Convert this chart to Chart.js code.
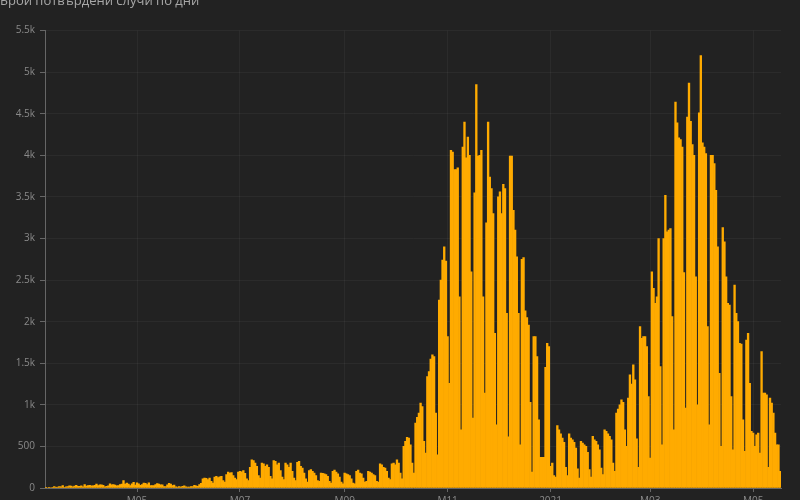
<!DOCTYPE html>
<html>
<head>
<meta charset="utf-8">
<title>Брой потвърдени случи по дни</title>
<script src="https://cdn.jsdelivr.net/npm/chart.js@4.4.0/dist/chart.umd.min.js"></script>
<style>
  html, body { margin: 0; padding: 0; background: #222; overflow: hidden; }
  #wrap { position: absolute; left: 0; top: -10px; width: 800px; height: 510px; }
</style>
</head>
<body>
<div id="wrap"><canvas id="casesChart"></canvas></div>
<script>
// ---------- данни ----------
const startDate = '2020-03-08';

// нови случаи по дни (ред = седмица пон..нед)
const dailyCases = [
  4,
  0, 2, 0, 1, 16, 8, 10,
  16, 14, 30, 9, 15, 17, 25,
  22, 14, 22, 33, 20, 20, 27,
  15, 40, 22, 28, 31, 26, 25,
  33, 46, 28, 38, 38, 31, 15,
  20, 27, 51, 39, 42, 36, 26,
  28, 41, 46, 90, 48, 59, 47,
  30, 49, 68, 35, 61, 50, 32,
  40, 60, 57, 42, 62, 28, 28,
  30, 40, 53, 47, 37, 39, 16,
  18, 38, 56, 48, 29, 36, 13,
  10, 18, 12, 20, 25, 14, 12,
  10, 17, 18, 31, 25, 21, 40,
  55, 110, 120, 115, 100, 118, 80,
  60, 130, 140, 125, 135, 140, 90,
  70, 160, 190, 180, 185, 150, 120,
  100, 190, 200, 195, 210, 175, 110,
  90, 250, 340, 330, 300, 260, 150,
  120, 300, 290, 260, 280, 250, 140,
  110, 330, 320, 280, 300, 210, 130,
  100, 300, 280, 250, 300, 200, 120,
  90, 310, 320, 260, 240, 180, 110,
  70, 210, 220, 200, 180, 150, 90,
  80, 180, 175, 170, 160, 140, 80,
  60, 200, 215, 190, 170, 130, 70,
  50, 180, 170, 160, 150, 110, 60,
  50, 200, 215, 180, 170, 120, 70,
  80, 200, 190, 180, 160, 150, 80,
  70, 290, 280, 250, 240, 200, 120,
  100, 290, 300, 280, 340, 300, 180,
  110, 500, 560, 610, 600, 520, 300,
  180, 780, 850, 900, 1020, 980, 560,
  420, 1340, 1400, 1550, 1600, 1580, 900,
  400, 2260, 2500, 2740, 2900, 2730, 1820,
  1260, 4060, 4040, 3830, 3830, 3850, 2300,
  700, 4100, 4400, 3970, 4220, 4000, 2600,
  840, 3550, 4850, 3990, 4000, 4060, 2300,
  1140, 3190, 4400, 3740, 3600, 3300, 1860,
  760, 3500, 3560, 3300, 3650, 3600, 2100,
  615, 3990, 3990, 3340, 3100, 2780, 2100,
  520, 2750, 2770, 2130, 2050, 1960, 1030,
  190, 1820, 1820, 1580, 820, 370, 370,
  370, 1450, 1740, 1700, 260, 300, 150,
  130, 750, 700, 650, 600, 550, 250,
  150, 650, 600, 580, 550, 480, 230,
  120, 560, 540, 520, 500, 430, 220,
  130, 620, 580, 560, 520, 460, 240,
  160, 700, 680, 650, 620, 580, 300,
  200, 900, 950, 1000, 1060, 1030, 700,
  500, 1080, 1360, 1250, 1480, 1300, 590,
  250, 1940, 1800, 1820, 1820, 1700, 1100,
  360, 2600, 2400, 2220, 2300, 3000, 1460,
  520, 3000, 3520, 3080, 3100, 3120, 2060,
  700, 4640, 4390, 4210, 4190, 4100, 2590,
  960, 4460, 4870, 4410, 4130, 4000, 2540,
  1000, 4510, 5200, 4150, 4100, 4020, 1940,
  760, 4000, 4000, 3900, 3580, 2900, 1380,
  500, 3130, 2960, 2540, 2220, 2200, 1100,
  460, 2440, 2100, 2000, 1740, 1730, 820,
  440, 1780, 1860, 1260, 680, 660, 500,
  640, 660, 420, 1640, 1140, 1140, 1120,
  250, 1080, 1020, 900, 660, 520, 520,
  200
];

const tickDates = ['2020-05-01', '2020-07-01', '2020-09-01', '2020-11-01', '2021-01-01', '2021-03-01', '2021-05-01'];
const tickLabels = ['M05', 'M07', 'M09', 'M11', '2021', 'M03', 'M05'];

// ---------- дати за категориите ----------
const days = [];
const d0 = new Date(startDate + 'T00:00:00Z');
for (let i = 0; i < dailyCases.length; i++) {
  const d = new Date(d0.getTime() + i * 86400000);
  days.push(d.toISOString().slice(0, 10));
}
const tickAt = {};
tickDates.forEach((t, k) => { tickAt[days.indexOf(t)] = tickLabels[k]; });

const gridCol = 'rgba(255,255,255,0.045)';
const axisCol = '#666';
const textCol = '#8a8a8a';
const font = 'Open Sans, Noto Sans, sans-serif';

const ctx = document.getElementById('casesChart').getContext('2d');
new Chart(ctx, {
  type: 'bar',
  data: {
    labels: days,
    datasets: [{
      data: dailyCases,
      backgroundColor: '#ffab00',
      borderWidth: 0,
      barPercentage: 1,
      categoryPercentage: 1
    }]
  },
  options: {
    responsive: true,
    maintainAspectRatio: false,
    animation: false,
    layout: { padding: { left: 0, right: 19, top: 0, bottom: 0 } },
    plugins: {
      legend: { display: false },
      tooltip: { enabled: false },
      title: {
        display: true,
        text: 'Брой потвърдени случи по дни',
        align: 'start',
        color: '#a8a8a8',
        font: { family: font, size: 13, weight: 'normal' },
        padding: { top: 3, bottom: 22 }
      }
    },
    scales: {
      x: {
        offset: true,
        grid: {
          offset: false,
          color: c => (c.index in tickAt) ? gridCol : 'transparent',
          tickColor: c => (c.index in tickAt) ? axisCol : 'transparent',
          tickLength: 4
        },
        border: { color: axisCol },
        ticks: {
          autoSkip: false,
          maxRotation: 0,
          padding: 3,
          color: textCol,
          font: { family: font, size: 10 },
          callback: (v, i) => tickAt[i] || ''
        },
        afterFit: s => { s.height = 12; }
      },
      y: {
        min: 0,
        max: 5500,
        grid: { color: gridCol, tickColor: axisCol, tickLength: 5 },
        border: { color: axisCol },
        ticks: {
          stepSize: 500,
          padding: 5,
          color: textCol,
          font: { family: font, size: 10 },
          callback: v => v >= 1000 ? (v / 1000) + 'k' : v
        },
        afterFit: s => { s.width = 45; }
      }
    }
  }
});
</script>
</body>
</html>
